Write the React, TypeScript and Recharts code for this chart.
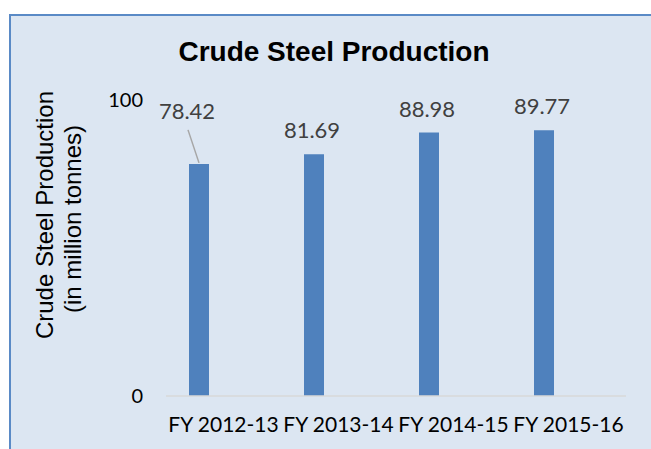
import React from 'react';
import { BarChart, Bar, XAxis, YAxis, LabelList } from 'recharts';

const years = ['FY 2012-13', 'FY 2013-14', 'FY 2014-15', 'FY 2015-16'];
const production = [78.42, 81.69, 88.98, 89.77];
// the source chart keeps an empty second series, which pushes the bars left of each category centre
const emptySeries = [null, null, null, null];
const yTicks = [0, 100];

const data = years.map((year, i) => ({ year, value: production[i], blank: emptySeries[i] }));

const labelFont = 'Lato, "Open Sans", sans-serif';
const arialFont = '"Liberation Sans", Arial, sans-serif';

// first label sits up and left of its bar, joined by a leader line
const renderValueLabel = (props: any) => {
  const { x, y, width, value, index } = props;
  const cx = Number(x) + Number(width) / 2;
  const top = Number(y);
  if (index === 0) {
    return (
      <g>
        <line x1={cx} y1={top - 1} x2={cx - 11} y2={top - 34} stroke="#a6a6a6" strokeWidth={1.5} />
        <text x={cx - 12} y={top - 45} textAnchor="middle" fill="#404040" fontSize={22} fontFamily={labelFont}>
          {value}
        </text>
      </g>
    );
  }
  return (
    <text x={cx - 2} y={top - 16} textAnchor="middle" fill="#404040" fontSize={22} fontFamily={labelFont}>
      {value}
    </text>
  );
};

const renderYTitle = (props: any) => {
  const { viewBox } = props;
  const cy = viewBox.y + viewBox.height / 2 - 33;
  return (
    <g>
      <text x={44} y={cy} transform={`rotate(-90 44 ${cy})`} textAnchor="middle" dominantBaseline="central"
        fontSize={24} fontFamily={arialFont} fill="#000">
        Crude Steel Production
      </text>
      <text x={72} y={cy + 4} transform={`rotate(-90 72 ${cy + 4})`} textAnchor="middle" dominantBaseline="central"
        fontSize={24} fontFamily={arialFont} fill="#000">
        (in million tonnes)
      </text>
    </g>
  );
};

export default function App() {
  return (
    <div style={{ position: 'absolute', left: 0, top: 0, width: 651, height: 449, overflow: 'hidden', background: '#fff' }}>
      <div style={{
        position: 'absolute',
        left: 9,
        top: 14,
        width: 700,
        height: 500,
        background: '#dce6f2',
        borderLeft: '2px solid #5a8ac6',
        borderTop: '2px solid #5a8ac6',
      }} />
      <div style={{ position: 'absolute', left: 0, top: 0 }}>
        <BarChart width={651} height={449} data={data} barGap={30}
          margin={{ top: 100, right: 25, bottom: 23, left: 0 }}>
          <text x={334} y={61} textAnchor="middle" fontSize={28} fontWeight="bold" fontFamily={arialFont} fill="#000">
            Crude Steel Production
          </text>
          <XAxis
            dataKey="year"
            height={30}
            tickLine={false}
            tickSize={0}
            tickMargin={21}
            axisLine={{ stroke: '#d9d9d9', strokeWidth: 1.5 }}
            tick={{ fill: '#000', fontSize: 21, fontFamily: labelFont }}
            interval={0}
          />
          <YAxis
            width={166}
            domain={[0, 100]}
            ticks={yTicks}
            tickLine={false}
            axisLine={false}
            tickSize={0}
            tickMargin={23}
            tick={{ fill: '#000', fontSize: 20, fontFamily: labelFont }}
            label={{ content: renderYTitle }}
          />
          <Bar dataKey="value" fill="#4f81bd" barSize={20} isAnimationActive={false}>
            <LabelList dataKey="value" content={renderValueLabel} />
          </Bar>
          <Bar dataKey="blank" fill="#c0504d" barSize={20} isAnimationActive={false} />
        </BarChart>
      </div>
    </div>
  );
}
